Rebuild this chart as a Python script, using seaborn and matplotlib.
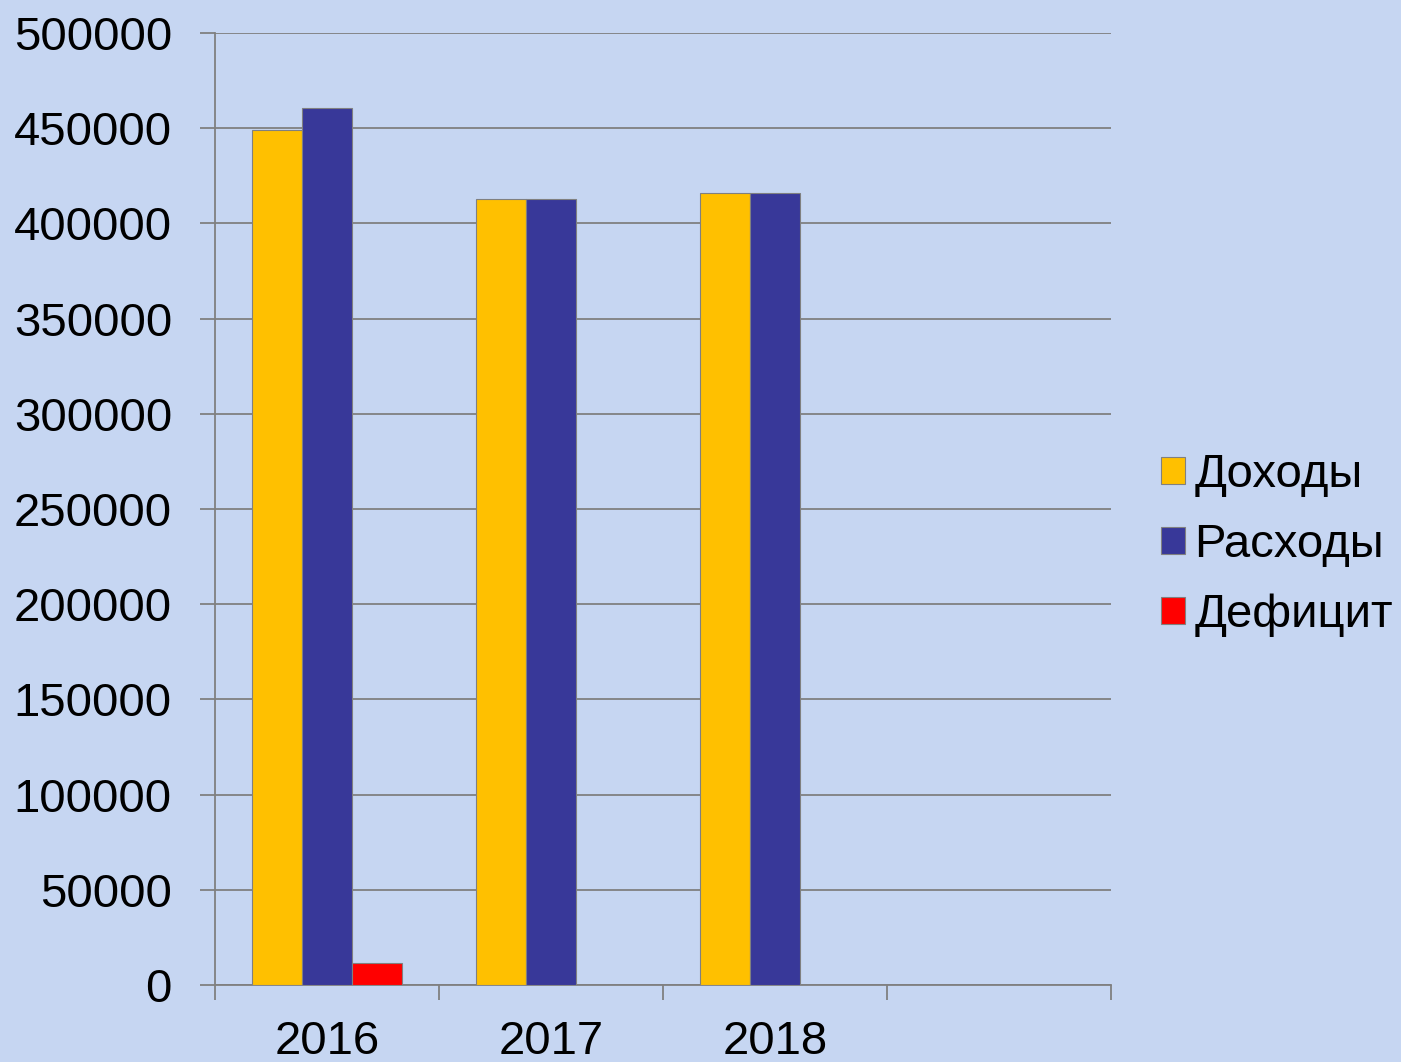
import numpy as np
import pandas as pd
import matplotlib
matplotlib.use("Agg")
import matplotlib.pyplot as plt
import seaborn as sns
from matplotlib.ticker import FixedLocator

years = ["2016", "2017", "2018", ""]
series = ["Доходы", "Расходы", "Дефицит"]
dohody = [449000, 412600, 416000, np.nan]
rashody = [460500, 412600, 416000, np.nan]
deficit = [11400, np.nan, np.nan, np.nan]
colors = ["#FFC000", "#383899", "#FF0000"]

df = pd.DataFrame({
    "year": years * 3,
    "series": [series[0]] * 4 + [series[1]] * 4 + [series[2]] * 4,
    "value": dohody + rashody + deficit,
})

sns.set_theme(style="white")
plt.rcParams["font.family"] = ["Liberation Sans", "DejaVu Sans"]
plt.rcParams["text.color"] = "black"
plt.rcParams["xtick.color"] = "black"
plt.rcParams["ytick.color"] = "black"

bg = "#c6d6f2"
fig = plt.figure(figsize=(14.01, 10.62), dpi=100, facecolor=bg)
ax = fig.add_axes([0.1535, 0.0725, 0.6395, 0.8965])
ax.set_facecolor(bg)

sns.barplot(data=df, x="year", y="value", hue="series", order=years,
            hue_order=series, palette=colors, width=0.67, ax=ax, saturation=1,
            edgecolor="#808080", linewidth=0.8, errorbar=None, zorder=3)

ax.set_xlim(-0.5, 3.5)
ax.set_ylim(0, 500000)
ax.set_yticks(np.arange(0, 500001, 50000))
ax.set_yticklabels([str(v) for v in range(0, 500001, 50000)], fontsize=34)
ax.yaxis.grid(True, color="#808080", linewidth=1.3, zorder=0)
ax.set_axisbelow(True)

# category boundary ticks, labels at centers
ax.xaxis.set_major_locator(FixedLocator([-0.5, 0.5, 1.5, 2.5, 3.5]))
ax.xaxis.set_minor_locator(FixedLocator([0, 1, 2]))
ax.set_xticklabels([""] * 5)
ax.set_xticklabels(years[:3], minor=True, fontsize=34)
ax.tick_params(axis="x", which="major", direction="out", length=11, width=1.3,
               color="#808080", bottom=True)
ax.tick_params(axis="x", which="minor", length=0, pad=25, bottom=True,
               labelcolor="black")
ax.tick_params(axis="y", direction="out", length=11, width=1.3,
               color="#808080", left=True, pad=20, labelcolor="black")

for s in ["top", "right"]:
    ax.spines[s].set_visible(False)
for s in ["left", "bottom"]:
    ax.spines[s].set_color("#808080")
    ax.spines[s].set_linewidth(1.3)

ax.set_xlabel("")
ax.set_ylabel("")

handles, labels = ax.get_legend_handles_labels()
leg = ax.legend(handles, labels, loc="center left", bbox_to_anchor=(1.035, 0.462),
                frameon=False, fontsize=34, handlelength=0.5, handleheight=0.5,
                handletextpad=0.2, labelspacing=0.55, borderaxespad=0)
for t in leg.get_texts():
    t.set_color("black")

fig.savefig("out.png", dpi=100, facecolor=bg)
